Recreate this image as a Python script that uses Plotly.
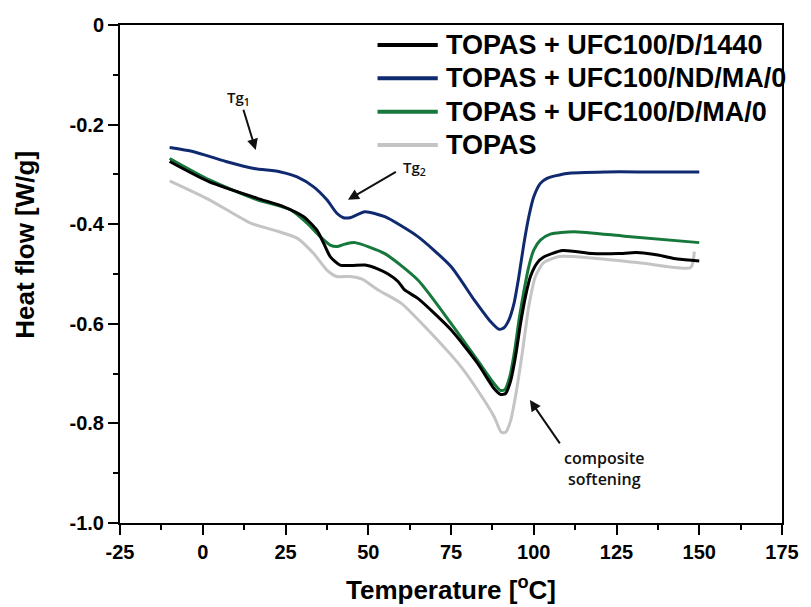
import plotly.graph_objects as go

# ---------------- data ----------------
series_names = ["TOPAS + UFC100/D/1440", "TOPAS + UFC100/ND/MA/0",
                "TOPAS + UFC100/D/MA/0", "TOPAS"]
series_colors = ["#000000", "#0f2a6e", "#17783c", "#c4c4c4"]

T_black = [-10, 2, 16.5, 24.5, 30.5, 34.5, 36.5, 38.5, 41.5, 45, 49, 53, 56, 59, 61, 65,
           75, 83, 88, 90, 91.5, 93, 94.5, 96, 97.5, 99, 101, 103, 108.7, 117.6, 125.6, 131,
           137.5, 143.4, 150]
y_black = [-0.274, -0.315, -0.348, -0.365, -0.385, -0.412, -0.438, -0.465, -0.482, -0.483,
           -0.482, -0.490, -0.500, -0.515, -0.532, -0.549, -0.612, -0.679, -0.730, -0.742,
           -0.740, -0.715, -0.665, -0.600, -0.545, -0.505, -0.478, -0.466, -0.453, -0.459,
           -0.459, -0.457, -0.462, -0.470, -0.474]

T_blue = [-10, -3, 7, 15.5, 23.5, 28.5, 33.5, 37.5, 40.5, 42.5, 44.5, 49, 55, 65, 75, 82,
          87, 89.5, 91, 92.5, 94, 95.5, 97, 98.5, 100, 102, 104, 110, 122, 135, 150]
y_blue = [-0.246, -0.254, -0.274, -0.288, -0.295, -0.305, -0.325, -0.351, -0.378, -0.387,
          -0.387, -0.375, -0.385, -0.425, -0.485, -0.552, -0.596, -0.611, -0.608, -0.592,
          -0.560, -0.505, -0.440, -0.385, -0.345, -0.318, -0.308, -0.298, -0.295, -0.295,
          -0.295]

T_green = [-10, 2, 16.5, 26.5, 31.5, 35.5, 38.5, 40.5, 43, 46, 55, 65, 75, 83, 88, 90,
           91.3, 92.8, 94.2, 95.6, 97, 98.5, 100, 102, 105, 112, 127.5, 150]
y_green = [-0.268, -0.311, -0.351, -0.371, -0.398, -0.425, -0.442, -0.445, -0.440, -0.437,
           -0.459, -0.512, -0.599, -0.673, -0.720, -0.734, -0.732, -0.705, -0.655, -0.590,
           -0.535, -0.485, -0.452, -0.432, -0.420, -0.415, -0.424, -0.437]

T_gray = [-10, 2, 14.5, 21.5, 28.5, 33.5, 37.5, 40.5, 44.5, 48, 53, 60, 68, 78, 83, 88,
          90.2, 91.5, 93, 94.5, 96.5, 98.5, 100.5, 103, 107.7, 117.6, 132.5, 147.4, 148.5]
y_gray = [-0.313, -0.351, -0.398, -0.412, -0.428, -0.459, -0.492, -0.505, -0.505, -0.510,
          -0.532, -0.559, -0.612, -0.686, -0.733, -0.786, -0.818, -0.818, -0.795, -0.745,
          -0.660, -0.565, -0.505, -0.477, -0.465, -0.468, -0.478, -0.487, -0.455]

x_ticks = [-25, 0, 25, 50, 75, 100, 125, 150, 175]
x_ticktext = ["-25", "0", "25", "50", "75", "100", "125", "150", "175"]
y_ticks = [0, -0.2, -0.4, -0.6, -0.8, -1.0]
y_ticktext = ["0", "-0.2", "-0.4", "-0.6", "-0.8", "-1.0"]

# ---------------- figure ----------------
fig = go.Figure()
curves = [
    (T_gray, y_gray, 3),
    (T_blue, y_blue, 1),
    (T_green, y_green, 2),
    (T_black, y_black, 0),
]
for xs, ys, idx in curves:
    fig.add_trace(go.Scatter(
        x=xs, y=ys, mode="lines", name=series_names[idx],
        line=dict(color=series_colors[idx], width=3, shape="spline", smoothing=0.6),
        showlegend=False, hoverinfo="skip"))

tickfont = dict(family="Liberation Sans, Arial", size=20, color="black", weight=700)
axis_common = dict(
    showgrid=False, zeroline=False, showline=True, linewidth=2, linecolor="black",
    mirror=True, ticks="outside", ticklen=10, tickwidth=2, tickcolor="black",
    tickfont=tickfont,
)
fig.update_xaxes(range=[-25, 175], tickvals=x_ticks,
                 ticktext=["<b>%s</b>" % t for t in x_ticktext],
                 minor=dict(ticks="outside", ticklen=5, tickwidth=2, tickcolor="black",
                            dtick=12.5, tick0=-12.5),
                 **axis_common)
fig.update_yaxes(range=[-1, 0], tickvals=y_ticks,
                 ticktext=["<b>%s</b>" % t for t in y_ticktext],
                 minor=dict(ticks="outside", ticklen=5, tickwidth=2, tickcolor="black",
                            dtick=0.1, tick0=-0.1),
                 **axis_common)

# manual legend (paper coordinates)
leg_rows = [0.960, 0.893, 0.826, 0.759]
for i, yy in enumerate(leg_rows):
    fig.add_shape(type="line", xref="paper", yref="paper", x0=0.389, x1=0.480,
                  y0=yy, y1=yy, line=dict(color=series_colors[i], width=4))
    fig.add_annotation(xref="paper", yref="paper", x=0.490, y=yy,
                       text="<b>%s</b>" % series_names[i],
                       showarrow=False, xanchor="left", yanchor="middle",
                       font=dict(family="Liberation Sans, Arial", size=27, color="black"))

# axis titles
title_font = dict(family="Liberation Sans, Arial", size=26, color="black")
fig.add_annotation(xref="paper", yref="paper", x=-0.1426, y=0.558,
                   text="<b>Heat flow [W/g]</b>",
                   textangle=-90, showarrow=False, xanchor="center", yanchor="middle",
                   font=title_font)
fig.add_annotation(xref="paper", yref="paper", x=0.5, y=-0.132,
                   text="<b>Temperature [<sup>o</sup>C]</b>",
                   showarrow=False, xanchor="center", yanchor="middle", font=title_font)

# arrows and notes
note_font = dict(family="Open Sans", size=15, color="#111111", weight=600)
arrows = [
    (16.0, -0.251, 12.15, -0.167),
    (43.86, -0.351, 58.8, -0.293),
    (98.83, -0.753, 108.2, -0.843),
]
for hx, hy, tx, ty in arrows:
    fig.add_annotation(x=hx, y=hy, ax=tx, ay=ty, axref="x", ayref="y", text="",
                       showarrow=True, arrowhead=2, arrowsize=1.1, arrowwidth=2,
                       arrowcolor="#111111", standoff=0, startstandoff=0)
fig.add_annotation(x=10.66, y=-0.147, text="Tg<sub>1</sub>", showarrow=False,
                   font=note_font)
fig.add_annotation(x=63.85, y=-0.287, text="Tg<sub>2</sub>", showarrow=False,
                   font=note_font)
fig.add_annotation(x=121.5, y=-0.89, text="composite<br>softening", showarrow=False,
                   font=dict(family="Open Sans", size=16, color="#111111", weight=600))

fig.update_layout(
    width=811, height=607,
    margin=dict(l=120, r=18, t=25, b=84),
    plot_bgcolor="white", paper_bgcolor="white",
    showlegend=False,
)

fig.write_html("out.html")
